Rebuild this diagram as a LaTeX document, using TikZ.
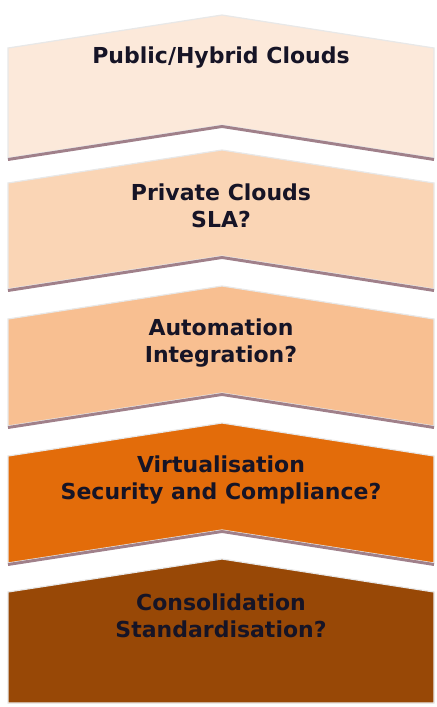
\documentclass[tikz,border=0pt]{standalone}
\usepackage{fontspec}
\setmainfont{DejaVu Sans}
\usetikzlibrary{positioning}
\definecolor{lvlA}{RGB}{252,233,218}
\definecolor{lvlB}{RGB}{250,213,181}
\definecolor{lvlC}{RGB}{248,191,145}
\definecolor{lvlD}{RGB}{227,108,10}
\definecolor{lvlE}{RGB}{152,72,6}
\definecolor{rim}{RGB}{160,128,138}
\definecolor{ink}{RGB}{22,20,38}

\begin{document}
\begin{tikzpicture}[x=0.75pt,y=-0.75pt,
 label/.style={font=\fontsize{16.5}{20}\selectfont\bfseries,text=ink,align=center,inner sep=0pt},
 halo/.style={draw=black!9,line width=0.9pt},
 edge/.style={draw=rim,line width=2.2pt}]
\useasboundingbox (0,0) rectangle (436,707);

% chevron levels: top peak / bottom peak / colour
\foreach \t/\b/\c in {15/125/lvlA,150/256/lvlB,286/393/lvlC,423/530/lvlD}{
  \fill[\c,halo] (8,\t+33) -- (222,\t) -- (434,\t+33) -- (434,\b+33) -- (222,\b) -- (8,\b+33) -- cycle;
  \draw[edge] (8,\b+34.5) -- (222,\b+1.5) -- (434,\b+34.5);
}

% bottom level, flat base
\fill[lvlE,halo] (8,592) -- (222,559) -- (434,592) -- (434,703) -- (8,703) -- cycle;

% texts
\node[label] (public) at (221,58) {Public/Hybrid Clouds};
\node[label] (private) at (221,206) {Private Clouds\\SLA?};
\node[label] (auto) at (221,343) {Automation\\Integration?};
\node[label] (virt) at (221,480) {Virtualisation\\Security and Compliance?};
\node[label] (cons) at (221,616) {Consolidation\\Standardisation?};
\end{tikzpicture}
\end{document}
